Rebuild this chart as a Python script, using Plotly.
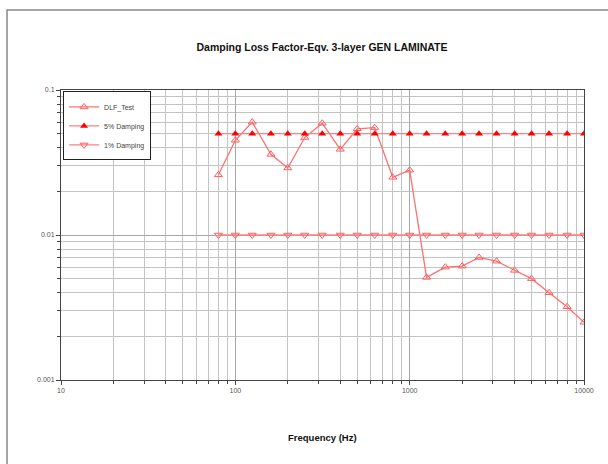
import plotly.graph_objects as go

freq = [80, 100, 125, 160, 200, 250, 315, 400, 500, 630, 800, 1000,
        1250, 1600, 2000, 2500, 3150, 4000, 5000, 6300, 8000, 10000]
dlf_test = [0.026, 0.045, 0.060, 0.036, 0.029, 0.047, 0.059, 0.039, 0.054, 0.055, 0.025, 0.028,
            0.0051, 0.0060, 0.0061, 0.0070, 0.0066, 0.0057, 0.0050, 0.0040, 0.0032, 0.0025]
damp5 = [0.05, 0.05, 0.05, 0.05, 0.05, 0.05, 0.05, 0.05, 0.05, 0.05, 0.05,
         0.05, 0.05, 0.05, 0.05, 0.05, 0.05, 0.05, 0.05, 0.05, 0.05, 0.05]
damp1 = [0.01, 0.01, 0.01, 0.01, 0.01, 0.01, 0.01, 0.01, 0.01, 0.01, 0.01,
         0.01, 0.01, 0.01, 0.01, 0.01, 0.01, 0.01, 0.01, 0.01, 0.01, 0.01]
x_ticks = [10, 100, 1000, 10000]
x_tick_text = ["10", "100", "1000", "10000"]
y_ticks = [0.001, 0.01, 0.1]
y_tick_text = ["0.001", "0.01", "0.1"]

fig = go.Figure()
fig.add_trace(go.Scatter(x=freq, y=dlf_test, name="DLF_Test", mode="lines+markers",
                         line=dict(color="#ff7070", width=1.3),
                         marker=dict(symbol="triangle-up-open", size=7, color="#ff5c5c", line=dict(width=1))))
fig.add_trace(go.Scatter(x=freq, y=damp5, name="5% Damping", mode="lines+markers",
                         line=dict(color="#ff8080", width=1.3),
                         marker=dict(symbol="triangle-up", size=7, color="#ff0000")))
fig.add_trace(go.Scatter(x=freq, y=damp1, name="1% Damping", mode="lines+markers",
                         line=dict(color="#ff8080", width=1.3),
                         marker=dict(symbol="triangle-down-open", size=7, color="#ff5c5c", line=dict(width=1))))

axis_common = dict(type="log", showline=True, linecolor="#444", linewidth=1, mirror=True,
                   ticks="outside", ticklen=4, tickcolor="#444",
                   showgrid=True, gridcolor="#a8a8a8", gridwidth=1, zeroline=False,
                   tickfont=dict(family="Liberation Sans, Arial", size=7, color="#555"),
                   minor=dict(dtick="D1", ticks="outside", ticklen=3, tickcolor="#444",
                              showgrid=True, gridcolor="#c4c4c4", gridwidth=1))

fig.update_xaxes(range=[1, 4], tickvals=x_ticks, ticktext=x_tick_text, **axis_common)
fig.update_yaxes(range=[-3, -1], tickvals=y_ticks, ticktext=y_tick_text, **axis_common)

fig.update_layout(
    width=608, height=464,
    margin=dict(l=61, r=24, t=90, b=84),
    paper_bgcolor="white", plot_bgcolor="white",
    title=dict(text="<b>Damping Loss Factor-Eqv. 3-layer GEN LAMINATE</b>",
               x=322/608, xanchor="center", y=1 - 47/464, yanchor="middle",
               font=dict(family="Liberation Sans, Arial", size=10.5, color="#111")),
    legend=dict(x=0.004, y=0.995, xanchor="left", yanchor="top",
                bgcolor="white", bordercolor="#222", borderwidth=1,
                font=dict(family="Liberation Sans, Arial", size=7, color="#444"),
                tracegroupgap=0, itemwidth=30),
    showlegend=True,
    annotations=[dict(text="<b>Frequency (Hz)</b>", xref="paper", yref="paper",
                      x=(322 - 61) / 523, y=(380 - 437) / 290, xanchor="center", yanchor="middle",
                      showarrow=False,
                      font=dict(family="Liberation Sans, Arial", size=9.5, color="#111"))],
    shapes=[dict(type="rect", xref="paper", yref="paper",
                 x0=(7 - 61) / 523, x1=(640 - 61) / 523,
                 y0=(380 - 500) / 290, y1=1 + (90 - 10) / 290,
                 line=dict(color="#888", width=1.5), fillcolor="rgba(0,0,0,0)", layer="below")],
)

fig.write_html("out.html", config={"displayModeBar": False},
               post_script="document.body.style.margin='0px';document.body.style.overflow='hidden';")
